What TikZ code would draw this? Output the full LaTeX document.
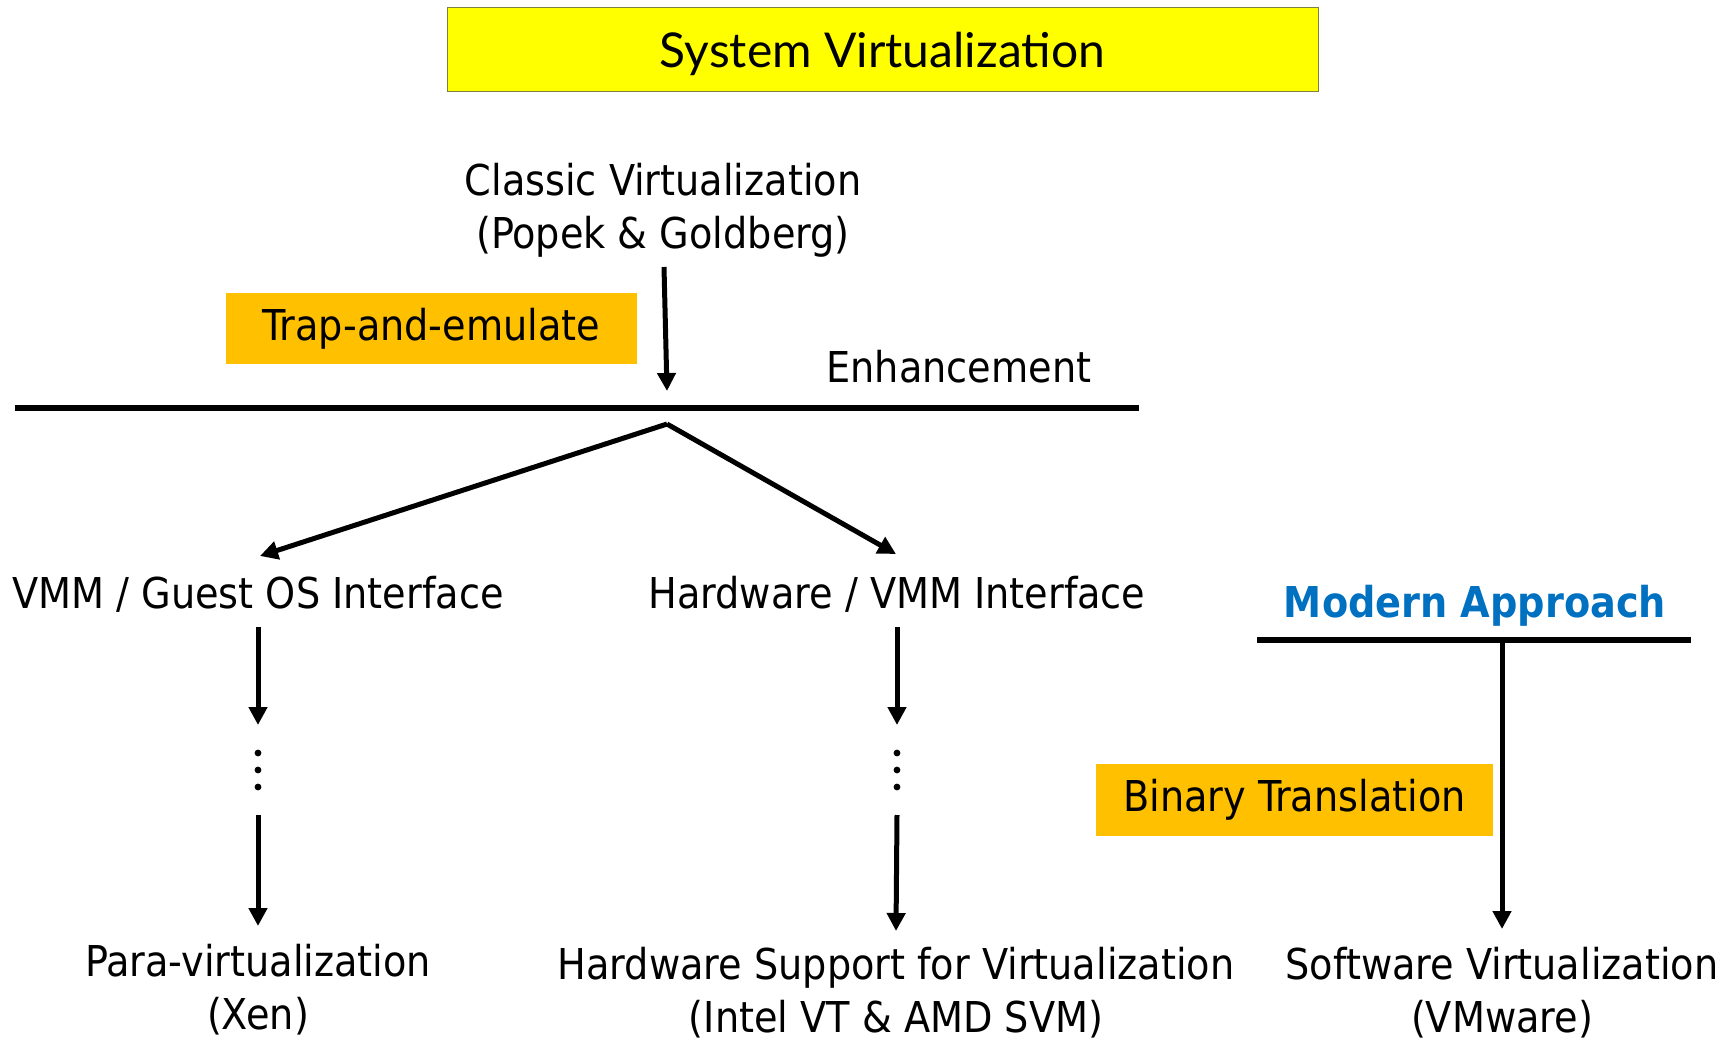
\documentclass[tikz,border=0pt]{standalone}
\usepackage{fontspec}
\setmainfont{DejaVu Sans Condensed}
\newfontfamily\titlefont{Lato}
\usetikzlibrary{arrows.meta}
\definecolor{titleyellow}{HTML}{FFFF00}
\definecolor{titleedge}{HTML}{7F7F3F}
\definecolor{tagorange}{HTML}{FFC000}
\definecolor{modernblue}{HTML}{0070C0}
\tikzset{
  label/.style={font=\fontsize{42.5}{53}\selectfont, align=center, inner sep=0pt},
  tagbox/.style={fill=tagorange, font=\fontsize{42.5}{53}\selectfont, inner sep=0pt},
  flow/.style={line width=5pt, -{Triangle[length=18pt,width=18pt]}},
  rule/.style={line width=6pt},
}
\begin{document}
\begin{tikzpicture}[x=1pt,y=-1pt]
\useasboundingbox (0,0) rectangle (1726,1041);

% title banner
\node[draw=titleedge, line width=1pt, fill=titleyellow, minimum width=871pt, minimum height=83pt,
      inner sep=0pt] (title) at (882.5,49.5) {};
\node[font=\titlefont\fontsize{48}{56}\selectfont, inner sep=0pt] (titletext) at (882.5,54) {System Virtualization};

% classic branch
\node[label] (classic) at (663,210.5) {Classic Virtualization\\(Popek \& Goldberg)};
\node[tagbox, minimum width=411pt, minimum height=71pt] (trap) at (431.5,328.5) {Trap-and-emulate};
\node[label, anchor=base] (enh) at (959,382) {Enhancement};
\coordinate (hl) at (15,408);
\coordinate (hr) at (1139,408);
\draw[rule] (hl) -- (hr);
\coordinate (ctop) at (664,267);
\coordinate (cbot) at (667,391);
\draw[flow] (ctop) -- (cbot);

\coordinate (split) at (667,424);
\node[label] (vmm) at (258,594) {VMM / Guest OS Interface};
\node[label] (hw) at (897,594) {Hardware / VMM Interface};
\draw[flow] (split) -- (260,556);
\draw[flow] (split) -- (896,554);

% left column
\coordinate (la1) at (258,627);
\coordinate (la2) at (258,725);
\coordinate (la3) at (258,815);
\coordinate (la4) at (258,926);
\draw[flow] (la1) -- (la2);
\foreach \yy in {753,770,787} \fill (258,\yy) circle (3.4pt);
\draw[flow] (la3) -- (la4);
\node[label] (para) at (258,990) {Para-virtualization\\(Xen)};

% middle column
\coordinate (ma1) at (897,627);
\coordinate (ma2) at (897,725);
\coordinate (ma3) at (897,815);
\coordinate (ma4) at (896,931);
\draw[flow] (ma1) -- (ma2);
\foreach \yy in {753,770,787} \fill (897,\yy) circle (3.4pt);
\draw[flow] (ma3) -- (ma4);
\node[label] (hws) at (896,993) {Hardware Support for Virtualization\\(Intel VT \& AMD SVM)};

% modern approach
\node[label, text=modernblue, font=\bfseries\fontsize{42.5}{53}\selectfont] (modern) at (1475,606) {Modern Approach};
\coordinate (ml) at (1257,640);
\coordinate (mr) at (1691,640);
\draw[rule] (ml) -- (mr);
\coordinate (mtop) at (1502,640);
\coordinate (mbot) at (1502,929);
\draw[flow] (mtop) -- (mbot);
\node[tagbox, minimum width=397pt, minimum height=72pt] (bt) at (1294.5,800) {Binary Translation};
\node[label] (sw) at (1502,993) {Software Virtualization\\(VMware)};
\end{tikzpicture}
\end{document}
